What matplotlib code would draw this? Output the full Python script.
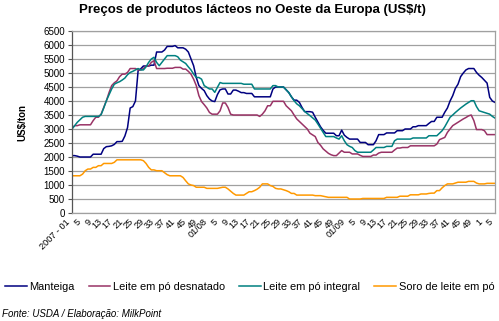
import matplotlib
matplotlib.use("Agg")
import matplotlib.pyplot as plt
import numpy as np

plt.rcParams['font.family'] = ['Liberation Sans', 'DejaVu Sans']

title = "Preços de produtos lácteos no Oeste da Europa (US$/t)"
ylabel = "US$/ton"
source = "Fonte: USDA / Elaboração: MilkPoint"
series_names = ["Manteiga", "Leite em pó desnatado", "Leite em pó integral", "Soro de leite em pó"]
series_colors = ["#000080", "#993366", "#008080", "#FF9900"]

# weekly values, 2007 week 1 .. 2010 week 5
manteiga = [
    2050, 2050, 2030, 2000, 2000, 2000, 2000, 2000, 2100, 2100,
    2100, 2100, 2300, 2370, 2380, 2400, 2450, 2550, 2550, 2560,
    2750, 3050, 3750, 3800, 4000, 5080, 5150, 5250, 5250, 5250,
    5280, 5280, 5750, 5750, 5750, 5820, 5950, 5950, 5950, 5980,
    5900, 5900, 5900, 5850, 5750, 5500, 5260, 4840, 4550, 4450,
    4370, 4190, 4070, 4000, 3980, 4230, 4400, 4430, 4430, 4250,
    4250, 4390, 4390, 4350, 4300, 4300, 4270, 4270, 4270, 4150,
    4150, 4150, 4150, 4150, 4150, 4150, 4430, 4500, 4500, 4500,
    4500, 4400, 4300, 4150, 4030, 4030, 3950, 3770, 3620, 3620,
    3620, 3600, 3420, 3250, 3080, 2950, 2850, 2850, 2850, 2850,
    2760, 2760, 2960, 2780, 2700, 2640, 2640, 2640, 2640, 2520,
    2520, 2520, 2440, 2440, 2440, 2580, 2800, 2800, 2800, 2860,
    2860, 2860, 2860, 2940, 2940, 2940, 3000, 3000, 3000, 3080,
    3080, 3120, 3120, 3120, 3120, 3200, 3270, 3270, 3420, 3420,
    3420, 3600, 3750, 4000, 4190, 4450, 4600, 4870, 5000, 5110,
    5160, 5160, 5160, 5020, 4920, 4840, 4740, 4640, 4130, 4000,
    3950,
]
desnatado = [
    3030, 3120, 3120, 3150, 3150, 3150, 3150, 3150, 3300, 3420,
    3420, 3530, 3770, 4010, 4300, 4550, 4650, 4720, 4870, 4960,
    4960, 5020, 5160, 5160, 5160, 5110, 5110, 5160, 5250, 5250,
    5380, 5440, 5160, 5160, 5160, 5160, 5170, 5170, 5170, 5200,
    5200, 5200, 5140, 5140, 5060, 4960, 4780, 4550, 4190, 3980,
    3870, 3750, 3590, 3530, 3530, 3530, 3650, 3930, 3930, 3770,
    3530, 3500, 3500, 3500, 3500, 3500, 3500, 3500, 3500, 3500,
    3500, 3450, 3530, 3650, 3830, 3830, 3990, 3990, 3990, 3990,
    3990, 3830, 3740, 3650, 3500, 3360, 3270, 3180, 3090, 3000,
    2850, 2790, 2730, 2520, 2420, 2290, 2210, 2130, 2080, 2050,
    2050, 2140, 2230, 2170, 2170, 2170, 2110, 2110, 2110, 2060,
    2020, 2020, 2020, 2020, 2070, 2070, 2140, 2170, 2170, 2170,
    2170, 2170, 2250, 2320, 2320, 2340, 2340, 2340, 2400, 2400,
    2400, 2400, 2400, 2400, 2400, 2400, 2400, 2400, 2460, 2620,
    2660, 2700, 2880, 3000, 3120, 3180, 3240, 3300, 3360, 3410,
    3470, 3500, 3300, 2980, 2980, 2980, 2940, 2800, 2800, 2800,
    2800,
]
integral = [
    3000, 3120, 3240, 3330, 3420, 3450, 3450, 3450, 3450, 3450,
    3450, 3510, 3750, 4010, 4220, 4430, 4600, 4650, 4690, 4750,
    4820, 4940, 5020, 5060, 5110, 5160, 5110, 5110, 5220, 5380,
    5500, 5560, 5380, 5260, 5380, 5500, 5620, 5620, 5620, 5620,
    5580, 5460, 5400, 5340, 5220, 5110, 4960, 4840, 4840, 4780,
    4550, 4490, 4430, 4430, 4310, 4490, 4660, 4630, 4630, 4630,
    4630, 4630, 4630, 4630, 4630, 4600, 4600, 4600, 4600, 4430,
    4430, 4430, 4430, 4430, 4430, 4430, 4550, 4550, 4500, 4500,
    4500, 4400, 4300, 4150, 4010, 3900, 3830, 3730, 3630, 3550,
    3480, 3400, 3320, 3180, 3030, 2880, 2730, 2730, 2730, 2730,
    2680, 2640, 2760, 2580, 2440, 2380, 2340, 2230, 2170, 2170,
    2170, 2170, 2170, 2170, 2250, 2340, 2340, 2340, 2340, 2380,
    2380, 2380, 2580, 2640, 2640, 2640, 2640, 2640, 2640, 2680,
    2680, 2680, 2680, 2680, 2680, 2760, 2760, 2760, 2760, 2850,
    2940, 3080, 3250, 3420, 3500, 3590, 3670, 3750, 3820, 3890,
    3950, 4010, 4010, 3800, 3650, 3620, 3590, 3560, 3530, 3450,
    3390,
]
soro = [
    1330, 1330, 1330, 1330, 1390, 1510, 1570, 1570, 1630, 1630,
    1690, 1690, 1770, 1770, 1770, 1770, 1810, 1900, 1900, 1900,
    1900, 1900, 1900, 1900, 1900, 1900, 1900, 1870, 1770, 1630,
    1540, 1540, 1510, 1510, 1510, 1440, 1370, 1330, 1330, 1330,
    1330, 1330, 1270, 1150, 1040, 1000, 980, 920, 920, 920,
    920, 880, 880, 880, 880, 880, 900, 920, 920, 860,
    780, 700, 640, 640, 640, 640, 700, 760, 760, 800,
    850, 920, 1040, 1040, 1040, 980, 950, 880, 860, 860,
    830, 800, 760, 700, 700, 640, 640, 640, 640, 640,
    640, 640, 620, 620, 620, 600, 580, 560, 560, 560,
    560, 560, 560, 560, 560, 500, 500, 500, 500, 500,
    520, 520, 520, 520, 520, 520, 520, 520, 520, 560,
    560, 560, 560, 560, 600, 600, 600, 600, 650, 650,
    650, 650, 680, 680, 680, 700, 710, 710, 800, 800,
    900, 980, 1040, 1040, 1040, 1070, 1100, 1100, 1100, 1100,
    1130, 1130, 1130, 1070, 1040, 1040, 1040, 1060, 1060, 1060,
    1060,
]

week_labels = (["2007 - 01"] + [str(w) for w in range(5, 53, 4)]
               + ["01/08"] + [str(w) for w in range(5, 53, 4)]
               + ["01/09"] + [str(w) for w in range(5, 53, 4)]
               + ["1", "5"])
y_ticks = list(range(0, 6501, 500))

fig = plt.figure(figsize=(4.99, 3.21), dpi=100)
ax = fig.add_axes([0.1443, 0.3364, 0.8477, 0.567])

x = np.arange(len(manteiga))
for vals, name, col in zip([manteiga, desnatado, integral, soro], series_names, series_colors):
    ax.plot(x, vals, color=col, lw=1.1, label=name)

ax.set_xlim(0, len(manteiga) - 1)
ax.set_ylim(0, 6500)
ax.set_yticks(y_ticks)
ax.set_yticklabels([str(v) for v in y_ticks], fontsize=7)
ax.yaxis.grid(True, color='#a0a0a0', lw=0.9)
ax.set_axisbelow(True)
tick_pos = np.arange(0, len(manteiga), 4)
ax.set_xticks(tick_pos)
ax.set_xticklabels(week_labels, rotation=45, ha='right', va='top', fontsize=6.6,
                   rotation_mode='default')
ax.tick_params(axis='x', length=0, pad=3)
ax.tick_params(axis='y', length=3, direction='out', pad=2, color='#555555')
for s in ['top', 'right', 'bottom']:
    ax.spines[s].set_color('#a0a0a0')
ax.spines['left'].set_color('#555555')
for s in ax.spines.values():
    s.set_linewidth(0.9)

ax.set_ylabel(ylabel, fontsize=7, fontweight='bold')
ax.yaxis.set_label_coords(-0.105, 0.5)
fig.text(0.505, 0.968, title, ha='center', va='center', fontsize=9.5, fontweight='bold')

handles = ax.get_lines()
fig.legend(handles, series_names, loc='center', bbox_to_anchor=(0.5, 0.105), ncol=4,
           frameon=False, fontsize=7.9, handlelength=2.0, handletextpad=0.2,
           columnspacing=1.3, borderaxespad=0, borderpad=0)

fig.text(0.004, 0.022, source, ha='left', va='center', fontsize=7, style='italic')

fig.savefig("out.png", dpi=100)
